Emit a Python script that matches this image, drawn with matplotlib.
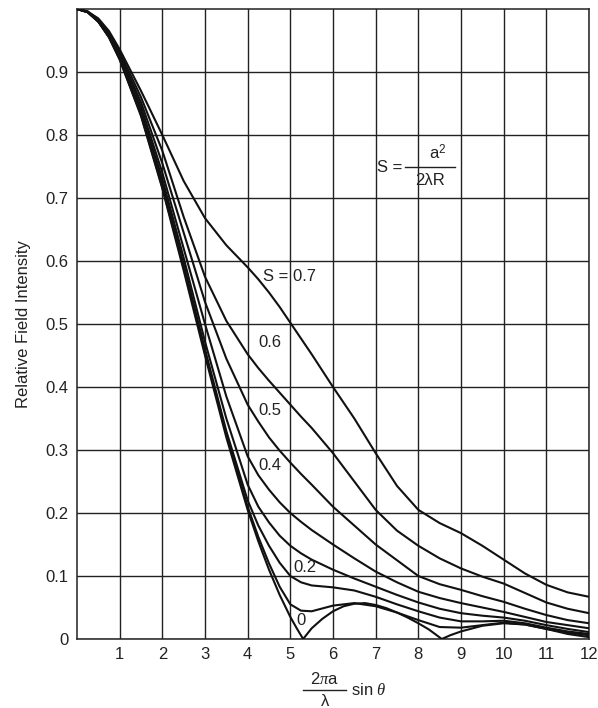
import matplotlib.pyplot as plt
from matplotlib.lines import Line2D

plt.rcParams['font.family'] = ['Liberation Sans', 'DejaVu Sans']
plt.rcParams['mathtext.fontset'] = 'custom'
plt.rcParams['mathtext.rm'] = 'Liberation Sans'
plt.rcParams['mathtext.it'] = 'Liberation Serif:italic'

# abscissa shared by the curves whose nulls are filled in
x = [0, 0.25, 0.5, 0.75, 1, 1.5, 2, 2.5, 3, 3.5, 4, 4.25, 4.5, 4.75, 5, 5.25,
     5.5, 6, 6.5, 7, 7.5, 8, 8.5, 9, 9.5, 10, 10.5, 11, 11.5, 12]

# S = 0 has true nulls, so it gets its own abscissa
x_s0 = [0, 0.25, 0.5, 0.75, 1, 1.5, 2, 2.5, 3, 3.5, 4, 4.25, 4.5, 4.75, 5, 5.15,
        5.3, 5.5, 5.75, 6, 6.25, 6.5, 6.75, 7, 7.25, 7.5, 7.75, 8, 8.25, 8.55,
        8.75, 9, 9.5, 10, 10.5, 11, 11.5, 12]
s0 = [1.0, 0.995, 0.98, 0.955, 0.92, 0.83, 0.715, 0.585, 0.45, 0.32, 0.205, 0.155,
      0.11, 0.07, 0.035, 0.017, 0.0, 0.017, 0.032, 0.044, 0.052, 0.056, 0.057,
      0.054, 0.049, 0.042, 0.034, 0.025, 0.015, 0.0, 0.006, 0.012, 0.021, 0.025,
      0.023, 0.016, 0.008, 0.003]

s1 = [1.0, 0.995, 0.98, 0.955, 0.92, 0.832, 0.717, 0.59, 0.455, 0.325, 0.21, 0.162,
      0.12, 0.083, 0.055, 0.045, 0.044, 0.053, 0.057, 0.052, 0.042, 0.03, 0.019,
      0.018, 0.022, 0.026, 0.023, 0.016, 0.01, 0.006]
s2 = [1.0, 0.995, 0.98, 0.956, 0.922, 0.835, 0.722, 0.595, 0.46, 0.33, 0.22, 0.18,
      0.148, 0.121, 0.10, 0.09, 0.085, 0.082, 0.077, 0.067, 0.055, 0.044, 0.034,
      0.028, 0.028, 0.029, 0.025, 0.018, 0.012, 0.008]
s3 = [1.0, 0.995, 0.98, 0.957, 0.924, 0.84, 0.73, 0.605, 0.472, 0.35, 0.245, 0.21,
      0.185, 0.164, 0.148, 0.136, 0.126, 0.11, 0.096, 0.083, 0.07, 0.058, 0.048,
      0.041, 0.037, 0.034, 0.029, 0.022, 0.016, 0.011]
s4 = [1.0, 0.995, 0.981, 0.958, 0.926, 0.845, 0.74, 0.62, 0.50, 0.385, 0.29, 0.26,
      0.237, 0.217, 0.20, 0.186, 0.173, 0.15, 0.128, 0.107, 0.09, 0.075, 0.065,
      0.057, 0.05, 0.043, 0.035, 0.027, 0.022, 0.017]
s5 = [1.0, 0.996, 0.982, 0.96, 0.928, 0.852, 0.755, 0.645, 0.535, 0.445, 0.372, 0.345,
      0.32, 0.299, 0.28, 0.262, 0.245, 0.21, 0.18, 0.15, 0.125, 0.10, 0.087, 0.078,
      0.068, 0.059, 0.048, 0.038, 0.03, 0.025]
s6 = [1.0, 0.996, 0.983, 0.962, 0.932, 0.86, 0.775, 0.67, 0.575, 0.505, 0.452, 0.43,
      0.41, 0.391, 0.372, 0.353, 0.335, 0.295, 0.25, 0.205, 0.172, 0.148, 0.128,
      0.112, 0.099, 0.088, 0.073, 0.058, 0.048, 0.041]
s7 = [1.0, 0.996, 0.985, 0.965, 0.936, 0.87, 0.80, 0.727, 0.668, 0.625, 0.59, 0.571,
      0.55, 0.527, 0.502, 0.477, 0.452, 0.40, 0.35, 0.295, 0.243, 0.205, 0.184,
      0.168, 0.148, 0.126, 0.104, 0.086, 0.074, 0.067]

# curve labels: text, x, y
labels = [('S = 0.7', 4.36, 0.576), ('0.6', 4.26, 0.47), ('0.5', 4.26, 0.362),
          ('0.4', 4.26, 0.275), ('0.2', 5.06, 0.114), ('0', 5.15, 0.029)]


def main():
    fig = plt.figure(figsize=(5.98, 7.08), dpi=100)
    ax = fig.add_axes([77 / 598, 69 / 708, 512 / 598, 630 / 708])

    ink = '#111111'
    txt_c = '#222222'
    fs = 12

    ax.plot(x_s0, s0, color=ink, lw=1.5, zorder=3)
    for s in [s1, s2, s3, s4, s5, s6, s7]:
        ax.plot(x, s, color=ink, lw=1.5, zorder=3)

    for txt, lx, ly in labels:
        ax.text(lx, ly, txt, fontsize=fs, color=txt_c, va='center', ha='left')

    # S = a^2 / (2 lambda R), set as a hand-built fraction
    ax.text(7.02, 0.749, 'S =', fontsize=fs, color=txt_c, va='center', ha='left')
    ax.plot([7.68, 8.85], [0.749, 0.749], color=txt_c, lw=1.0)
    ax.text(8.45, 0.771, r'a$^2$', fontsize=fs, color=txt_c, va='center', ha='center')
    ax.text(8.27, 0.728, u'2\u03bbR', fontsize=fs, color=txt_c, va='center', ha='center')

    ax.set_xlim(0, 12)
    ax.set_ylim(0, 1.0)
    ax.set_xticks(range(1, 13))
    ax.set_yticks([0, 0.1, 0.2, 0.3, 0.4, 0.5, 0.6, 0.7, 0.8, 0.9])
    ax.set_yticklabels(['0', '0.1', '0.2', '0.3', '0.4', '0.5', '0.6', '0.7', '0.8', '0.9'])
    ax.tick_params(length=0, labelsize=fs, labelcolor=txt_c, pad=6)
    ax.grid(True, color='#222222', lw=1.0)
    for sp in ax.spines.values():
        sp.set_color('#222222')
        sp.set_linewidth(1.1)

    ax.set_ylabel('Relative Field Intensity', fontsize=fs, color=txt_c)
    ax.yaxis.set_label_coords(-0.09, 0.5)

    # x label: (2 pi a / lambda) sin theta
    W, H = 598, 708
    fig.text(324 / W, 1 - 679 / H, r'$2\pi\mathrm{a}$', fontsize=fs, color=txt_c,
             ha='center', va='center')
    fig.add_artist(Line2D([303 / W, 346 / W], [1 - 690 / H, 1 - 690 / H],
                          color=txt_c, lw=1.0))
    fig.text(325 / W, 1 - 701 / H, u'\u03bb', fontsize=fs, color=txt_c,
             ha='center', va='center')
    fig.text(351 / W, 1 - 690 / H, r'sin $\theta$', fontsize=fs, color=txt_c,
             ha='left', va='center')

    fig.savefig('out.png', dpi=100)


if __name__ == "__main__":
    main()
